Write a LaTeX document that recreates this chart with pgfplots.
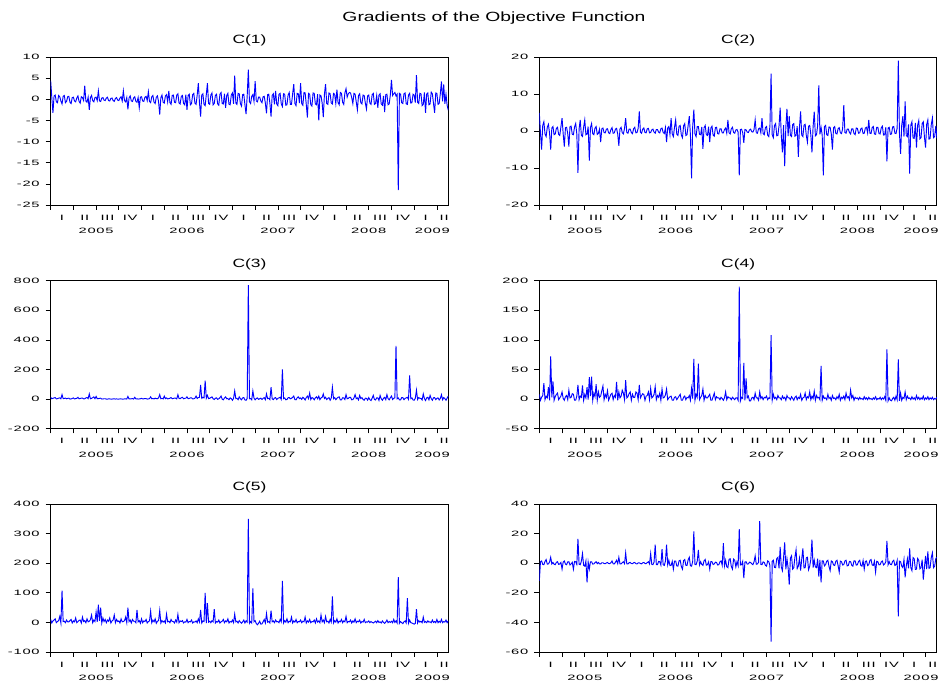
\documentclass[border=0pt]{standalone}
\usepackage{pgfplots}
\pgfplotsset{compat=1.18}
\usepackage{pgfplotstable}
\usepackage{fontspec}
\setmainfont{Liberation Sans}
\newfontfamily\tickfont[FakeStretch=1.9,LetterSpace=10]{Liberation Sans}
\newfontfamily\headfont[FakeStretch=1.45]{Liberation Sans}

% C(1)
\pgfplotstableread[row sep=\\,header=false]{
4.4\\0.5\\-3.2\\0.8\\1.0\\-0.6\\-0.8\\0.9\\0.6\\-0.4\\-1.1\\0.7\\0.9\\-0.8\\-0.5\\0.6\\0.7\\-0.7\\-1.0\\0.4\\
0.5\\-0.4\\-0.6\\0.3\\0.8\\-0.5\\-0.9\\0.6\\0.4\\-0.3\\3.2\\-0.4\\-0.7\\0.5\\-2.5\\0.4\\0.9\\-0.3\\-0.6\\0.4\\
0.5\\-0.3\\2.0\\-0.4\\-0.5\\0.3\\0.4\\-0.2\\-0.3\\0.3\\0.5\\-0.3\\-0.4\\0.2\\0.3\\-0.3\\-0.5\\0.2\\0.4\\-0.2\\
-0.3\\0.3\\0.6\\-0.4\\2.0\\-0.3\\-0.6\\0.4\\-2.4\\0.3\\0.8\\-0.4\\-0.5\\0.3\\0.6\\-0.5\\-0.7\\0.4\\-2.0\\0.5\\
0.6\\-0.4\\-0.5\\0.5\\0.7\\-0.3\\1.8\\-0.5\\-0.8\\0.6\\0.9\\-0.7\\-1.0\\0.5\\0.8\\-0.6\\-3.6\\0.4\\1.0\\-0.7\\
-0.9\\0.8\\1.1\\-0.6\\2.0\\-0.8\\-1.2\\0.9\\1.0\\-0.7\\-0.8\\1.0\\1.3\\-0.9\\-1.1\\0.7\\0.9\\-1.0\\-1.3\\1.1\\
-2.5\\0.9\\1.2\\-1.3\\-1.0\\1.1\\1.4\\-0.9\\-1.2\\1.0\\3.8\\-0.8\\-4.1\\1.0\\1.3\\-1.2\\-1.5\\1.1\\3.8\\-1.0\\
-1.2\\1.0\\1.5\\-1.3\\-1.0\\0.9\\1.2\\-1.1\\-1.4\\1.2\\1.6\\-1.0\\-1.1\\1.3\\-2.0\\0.9\\1.4\\-1.2\\-1.3\\1.0\\
1.5\\-1.1\\5.6\\-0.9\\-1.2\\1.4\\1.3\\-1.0\\-1.6\\1.1\\1.2\\-1.3\\-3.5\\0.8\\7.0\\-0.6\\-1.0\\0.7\\1.1\\-0.5\\
4.3\\-0.4\\-0.6\\0.5\\0.5\\-0.4\\-0.8\\0.6\\0.7\\-0.9\\-3.3\\1.1\\1.2\\-1.0\\-4.1\\0.9\\1.3\\-1.2\\2.0\\-1.1\\
-1.5\\1.2\\1.4\\-1.1\\-1.7\\1.3\\1.2\\-1.4\\-1.3\\1.0\\1.6\\-1.2\\-1.2\\1.3\\3.6\\-1.0\\-1.5\\1.4\\1.3\\-0.9\\
3.8\\-1.0\\-1.4\\1.6\\1.5\\-1.2\\-4.3\\1.4\\1.2\\-1.3\\-1.6\\1.5\\1.4\\-1.1\\-1.3\\1.2\\-5.0\\1.0\\0.8\\-0.9\\
-4.2\\1.2\\3.6\\-1.0\\-1.2\\1.5\\1.3\\-0.9\\-1.1\\1.4\\1.2\\-1.0\\2.3\\-0.8\\-1.3\\1.6\\1.4\\-0.7\\-1.2\\1.5\\
2.5\\0.5\\1.3\\1.6\\1.5\\0.4\\-1.0\\1.4\\1.2\\-0.6\\-2.5\\0.9\\1.3\\-0.8\\-1.1\\1.0\\0.9\\-0.9\\-2.3\\0.8\\
1.0\\-0.9\\-1.2\\1.1\\1.4\\-1.2\\-1.0\\0.9\\-2.0\\1.0\\1.3\\-1.1\\-1.4\\0.8\\-3.0\\1.1\\1.2\\-1.3\\-1.1\\1.0\\
4.6\\0.9\\1.3\\1.6\\0.8\\1.2\\-21.5\\1.4\\1.2\\-0.8\\-1.0\\1.3\\1.5\\-1.1\\-1.2\\1.0\\1.4\\-0.9\\-0.8\\1.2\\
1.0\\-0.8\\5.7\\-0.7\\-1.0\\1.4\\1.3\\-1.5\\-1.2\\1.6\\-3.2\\1.2\\1.5\\-1.3\\-1.1\\1.7\\1.3\\-1.0\\-3.2\\1.5\\
1.4\\-1.2\\-1.0\\1.3\\4.2\\-0.5\\3.5\\-1.1\\1.2\\-1.4\\-2.6\\
}\dA
% C(2)
\pgfplotstableread[row sep=\\,header=false]{
4.9\\-0.5\\-5.0\\1.5\\2.5\\-0.8\\-1.5\\1.0\\1.8\\-0.6\\-5.0\\0.8\\1.2\\-1.0\\-0.8\\0.7\\1.0\\-0.9\\-1.2\\1.1\\
3.5\\-0.8\\-4.2\\0.9\\1.0\\-0.7\\-4.2\\1.2\\1.3\\-0.9\\-1.0\\1.1\\2.0\\-0.8\\-11.3\\0.6\\3.0\\-1.2\\-1.5\\1.0\\
3.0\\-1.0\\-0.8\\1.2\\-8.0\\0.9\\2.0\\-0.7\\-1.0\\0.8\\1.2\\-0.9\\-0.6\\0.5\\-3.0\\0.6\\0.8\\-0.4\\-0.5\\0.5\\
0.6\\-0.5\\-0.7\\0.4\\0.9\\-0.6\\-0.5\\0.5\\0.7\\-0.8\\-4.0\\0.6\\1.0\\-0.5\\-0.8\\0.7\\3.5\\-0.4\\-0.6\\0.5\\
0.5\\-0.4\\-0.7\\0.6\\1.0\\-0.5\\-0.4\\0.7\\5.3\\-0.3\\-0.6\\0.5\\0.8\\-0.4\\-0.5\\0.6\\0.7\\-0.5\\-0.4\\0.3\\
0.5\\-0.3\\-0.6\\0.4\\0.4\\-0.3\\-0.5\\0.6\\0.8\\-0.4\\-0.7\\0.9\\-3.0\\0.8\\1.2\\-1.0\\3.5\\-0.8\\-1.5\\1.0\\
3.0\\-0.9\\-1.2\\1.3\\1.5\\-1.1\\-1.8\\1.4\\2.0\\-1.2\\-1.0\\1.5\\4.0\\-1.0\\-12.8\\1.2\\5.8\\-0.8\\-1.5\\1.2\\
1.2\\-0.9\\-1.0\\1.1\\-4.8\\0.9\\1.5\\-1.0\\-1.2\\1.2\\-3.0\\0.8\\1.3\\-1.1\\-1.4\\0.9\\1.0\\-0.7\\-0.8\\0.6\\
0.6\\-0.5\\-0.5\\0.4\\0.8\\-0.6\\3.0\\-0.5\\-0.8\\0.6\\1.0\\-0.4\\-0.6\\0.3\\0.4\\-0.3\\-12.0\\0.4\\0.5\\-0.4\\
-3.2\\0.4\\0.3\\-0.3\\-0.4\\0.3\\0.5\\-0.2\\-0.3\\0.4\\3.0\\-0.5\\-0.6\\0.6\\0.8\\-0.5\\3.5\\-0.7\\-1.0\\0.9\\
1.2\\-1.1\\-1.5\\1.3\\15.5\\-1.0\\-1.8\\1.5\\2.0\\-1.3\\-1.2\\1.4\\6.3\\-1.2\\-5.8\\1.6\\-9.5\\1.1\\6.0\\-1.4\\
4.0\\-1.2\\-1.5\\1.7\\2.0\\-1.4\\-1.2\\1.3\\-7.0\\1.0\\5.3\\-1.1\\-1.5\\1.6\\1.8\\-1.2\\-3.0\\1.3\\1.5\\-1.0\\
-5.8\\1.2\\5.2\\-1.3\\-1.0\\1.4\\12.3\\-0.9\\1.0\\-1.1\\-12.0\\1.2\\1.5\\-1.0\\-1.2\\1.1\\1.0\\-0.8\\-5.0\\0.9\\
1.2\\-0.7\\-0.8\\0.6\\0.9\\-0.5\\-0.7\\0.6\\7.0\\-0.4\\-0.6\\0.5\\0.5\\-0.4\\-0.8\\0.6\\0.6\\-0.7\\-1.0\\0.8\\
0.7\\-0.6\\-0.5\\0.6\\0.8\\-0.7\\-0.6\\0.8\\1.0\\-0.5\\3.0\\-0.6\\-0.7\\0.9\\1.2\\-0.8\\-0.9\\1.0\\1.0\\-0.7\\
-0.8\\0.9\\1.3\\-1.1\\-1.0\\1.0\\-8.2\\0.8\\1.0\\-0.9\\-0.8\\1.1\\1.2\\-0.6\\-0.7\\0.8\\19.0\\-0.5\\-6.2\\1.5\\
4.0\\-1.5\\8.0\\-1.2\\-1.5\\1.8\\-11.5\\1.6\\2.5\\-1.9\\-2.0\\2.2\\-4.5\\1.5\\2.8\\-2.1\\-1.8\\2.0\\2.5\\-1.6\\
-4.5\\1.8\\3.0\\-2.2\\-2.0\\1.7\\3.5\\-1.8\\-1.5\\1.4\\-2.0\\
}\dB
% C(3)
\pgfplotstableread[row sep=\\,header=false]{
12\\2\\5\\8\\10\\1\\3\\6\\8\\2\\30\\3\\4\\7\\2\\5\\6\\0\\1\\4\\
8\\1\\3\\5\\12\\2\\4\\6\\7\\1\\2\\8\\10\\3\\35\\2\\5\\9\\15\\3\\
18\\2\\3\\5\\6\\0\\1\\2\\2\\0\\0\\1\\1\\0\\0\\1\\2\\0\\1\\0\\
0\\1\\1\\0\\0\\1\\2\\0\\18\\1\\1\\2\\3\\0\\12\\1\\2\\0\\1\\2\\
5\\1\\2\\4\\3\\0\\1\\3\\15\\2\\4\\1\\6\\3\\2\\8\\30\\2\\5\\1\\
20\\3\\8\\1\\3\\6\\10\\2\\4\\7\\6\\1\\30\\4\\3\\9\\12\\2\\5\\6\\
15\\3\\4\\8\\8\\1\\2\\6\\20\\4\\10\\12\\95\\5\\12\\8\\125\\6\\25\\3\\
5\\10\\15\\2\\-3\\6\\8\\-2\\2\\9\\20\\-1\\-5\\7\\15\\2\\3\\-4\\8\\3\\
-8\\5\\55\\3\\5\\-4\\15\\2\\-5\\8\\10\\-6\\-8\\4\\770\\2\\3\\-5\\55\\6\\
-5\\4\\8\\-2\\2\\6\\-3\\5\\10\\-4\\35\\3\\5\\-3\\80\\2\\-4\\7\\10\\-3\\
5\\8\\12\\-2\\200\\3\\8\\-5\\-3\\9\\10\\2\\5\\12\\20\\-4\\-5\\8\\15\\3\\
8\\-2\\12\\5\\-6\\10\\20\\3\\40\\-3\\10\\6\\-5\\8\\15\\2\\20\\-4\\8\\12\\
35\\4\\12\\-3\\5\\10\\-8\\6\\80\\2\\10\\-4\\5\\12\\15\\-6\\-5\\9\\8\\-3\\
30\\2\\5\\12\\12\\-5\\-4\\8\\30\\3\\8\\-6\\25\\4\\10\\-3\\-8\\6\\5\\-7\\
10\\-4\\-10\\6\\25\\-3\\-6\\8\\8\\-9\\25\\2\\-8\\5\\12\\-4\\30\\3\\-5\\9\\
20\\-3\\5\\8\\360\\2\\8\\-5\\-6\\10\\10\\-4\\5\\8\\12\\-2\\160\\3\\8\\-6\\
-8\\6\\60\\-3\\10\\5\\5\\-6\\35\\4\\-10\\8\\12\\-5\\25\\3\\-8\\9\\10\\-4\\
5\\8\\-6\\4\\30\\-5\\10\\3\\-8\\6\\20\\
}\dC
% C(4)
\pgfplotstableread[row sep=\\,header=false]{
8\\-2\\3\\6\\27\\-1\\5\\2\\20\\-2\\72\\3\\30\\-2\\4\\8\\10\\-1\\2\\5\\
12\\1\\-2\\4\\6\\-1\\15\\2\\3\\9\\8\\-2\\-2\\5\\24\\-1\\5\\3\\23\\-2\\
8\\2\\20\\-1\\37\\5\\38\\-2\\10\\4\\25\\-2\\12\\3\\5\\14\\22\\-1\\8\\3\\
14\\-2\\3\\8\\10\\-1\\6\\3\\29\\-2\\12\\2\\5\\15\\10\\-1\\32\\2\\4\\9\\
12\\-2\\8\\3\\3\\12\\10\\-1\\24\\2\\6\\9\\8\\-2\\5\\6\\12\\-1\\18\\2\\
4\\8\\21\\-1\\6\\3\\10\\-2\\17\\2\\3\\7\\17\\-1\\2\\4\\5\\-2\\-2\\3\\
4\\-1\\2\\5\\8\\-2\\-2\\3\\5\\-1\\3\\2\\6\\-2\\18\\1\\68\\-2\\8\\3\\
60\\-1\\3\\6\\17\\-2\\6\\2\\2\\5\\8\\-2\\-2\\4\\10\\-1\\4\\2\\2\\-1\\
3\\1\\-2\\2\\12\\-1\\4\\2\\2\\-1\\3\\1\\-1\\2\\2\\-2\\190\\-3\\3\\1\\
61\\-2\\35\\2\\5\\-3\\-3\\2\\3\\-1\\10\\2\\2\\-2\\12\\1\\4\\-1\\3\\2\\
5\\-1\\2\\1\\108\\-2\\8\\1\\3\\-1\\6\\2\\2\\-1\\5\\1\\3\\-2\\6\\2\\
2\\-1\\4\\1\\-2\\3\\5\\-1\\3\\1\\8\\-2\\2\\3\\10\\-1\\4\\2\\12\\-1\\
5\\1\\13\\-2\\6\\2\\3\\-1\\56\\-2\\5\\1\\2\\-1\\8\\1\\3\\-2\\6\\1\\
2\\-1\\4\\1\\8\\-2\\3\\1\\5\\-1\\10\\2\\4\\-1\\15\\2\\6\\-2\\3\\1\\
2\\-1\\3\\0\\1\\-1\\4\\0\\2\\-1\\3\\0\\1\\-1\\2\\0\\4\\-1\\1\\0\\
3\\-1\\2\\0\\4\\-2\\84\\-3\\2\\-2\\-3\\1\\3\\-2\\5\\-1\\67\\-3\\10\\-2\\
3\\1\\12\\-1\\5\\1\\2\\-1\\4\\0\\2\\-1\\6\\0\\3\\-1\\2\\0\\5\\-1\\
2\\0\\4\\-1\\2\\0\\3\\-1\\1\\0\\3\\
}\dD
% C(5)
\pgfplotstableread[row sep=\\,header=false]{
10\\-2\\5\\8\\12\\-1\\3\\6\\20\\-2\\107\\3\\4\\-1\\8\\2\\2\\6\\10\\-2\\
5\\2\\15\\-1\\3\\7\\8\\-2\\18\\3\\6\\-1\\12\\2\\4\\9\\25\\-1\\8\\3\\
35\\2\\60\\5\\50\\-2\\15\\3\\10\\-1\\8\\4\\15\\-2\\5\\8\\25\\-1\\10\\3\\
5\\-2\\12\\2\\3\\6\\18\\-1\\50\\3\\8\\-2\\10\\4\\4\\-1\\42\\2\\6\\-3\\
12\\-1\\5\\3\\10\\-2\\3\\5\\38\\-1\\8\\2\\12\\-3\\4\\6\\40\\-2\\6\\1\\
5\\-2\\28\\2\\4\\-1\\10\\3\\3\\-2\\8\\1\\27\\-1\\5\\3\\6\\-2\\2\\1\\
10\\-1\\3\\2\\8\\-2\\2\\1\\5\\-1\\12\\2\\42\\-2\\5\\3\\100\\-2\\65\\1\\
4\\-1\\6\\2\\45\\-2\\3\\1\\8\\-2\\2\\4\\10\\-1\\5\\2\\12\\-2\\3\\1\\
8\\-1\\28\\2\\4\\-2\\6\\1\\-3\\2\\8\\-2\\5\\1\\350\\-3\\3\\-2\\115\\2\\
6\\-4\\-8\\-3\\4\\-6\\-5\\2\\10\\-2\\30\\1\\3\\-2\\40\\2\\5\\-1\\8\\2\\
3\\-1\\10\\2\\140\\-2\\6\\1\\12\\-1\\4\\2\\18\\-2\\5\\1\\10\\-1\\3\\2\\
8\\-1\\4\\2\\18\\-2\\5\\1\\10\\-1\\3\\2\\8\\-2\\12\\1\\5\\-1\\25\\2\\
8\\-1\\20\\2\\4\\-2\\10\\1\\88\\-2\\6\\1\\12\\-2\\4\\2\\10\\-1\\5\\2\\
20\\-1\\3\\2\\8\\-2\\5\\1\\12\\-1\\4\\2\\8\\-2\\3\\1\\10\\-1\\2\\1\\
5\\-1\\3\\0\\-2\\1\\4\\-1\\6\\0\\2\\-2\\5\\0\\-3\\1\\8\\-1\\3\\0\\
4\\-1\\10\\0\\5\\-2\\153\\-3\\3\\-1\\-4\\2\\5\\-2\\82\\-3\\8\\-1\\-2\\-4\\
-6\\-3\\45\\-2\\6\\1\\4\\-1\\18\\0\\3\\-1\\5\\1\\2\\-1\\8\\0\\3\\-1\\
10\\-1\\4\\0\\10\\-1\\3\\1\\8\\-1\\5\\
}\dE
% C(6)
\pgfplotstableread[row sep=\\,header=false]{
-12\\1\\1.5\\-0.8\\-1\\1.2\\2.5\\-0.6\\-0.5\\0.8\\4\\-0.5\\0.5\\-0.7\\-1\\0.6\\1\\-0.8\\-0.5\\0.5\\
-4\\0.8\\1.5\\-0.6\\-1\\0.9\\1\\-1.2\\-0.5\\0.6\\-4\\1.2\\1\\-0.8\\16.5\\-0.7\\-1\\1.4\\6.5\\-1.5\\
-2\\1.5\\-13\\0.8\\-4\\1\\1\\-0.6\\-0.5\\0.4\\1\\-0.3\\0.5\\-0.4\\-0.5\\0.3\\0.3\\-0.2\\-0.3\\0.2\\
0.5\\-0.2\\-0.3\\0.3\\1.5\\-0.4\\-0.5\\0.6\\2\\-0.3\\4\\-0.5\\-0.5\\0.4\\1\\-0.3\\7\\-0.4\\-0.5\\0.3\\
0.5\\-0.2\\-0.3\\0.3\\0.5\\-0.3\\-0.5\\0.2\\0.3\\-0.2\\-0.4\\0.3\\0.5\\-0.2\\-0.3\\0.4\\1\\-0.5\\6.5\\-0.8\\
-1\\0.8\\12.5\\-0.9\\-1\\1.2\\1\\-1.3\\9.5\\-1\\-1.5\\1.4\\12.5\\-1.1\\2\\-1.6\\-1.5\\1.2\\-4\\1.5\\
1.5\\-1.8\\-2\\1.6\\2\\-2.2\\-4\\1.8\\2.5\\-1.4\\-1.5\\2.3\\4\\-1.7\\-2\\1.2\\21.5\\-0.8\\-1\\1.4\\
9\\-1.2\\1\\-0.8\\-1.5\\1.6\\2.5\\-1.3\\-1\\0.9\\-4\\1.1\\1\\-0.9\\-0.5\\0.7\\0.5\\-1.2\\-1\\1\\
1.5\\-1.4\\13.5\\-1.8\\2\\-2.4\\-3\\2.6\\3\\-2.2\\-4\\2.8\\2\\-2.5\\1\\-1.6\\23\\-1.2\\-1\\1.2\\
-10\\0.8\\1\\-0.6\\-0.5\\0.7\\0.5\\-0.4\\-1\\0.9\\5\\-0.7\\-0.5\\0.6\\28.5\\-0.8\\-1\\0.9\\0.5\\-1.4\\
-2\\1.6\\1\\-1.5\\-53\\1.2\\2\\-2.8\\-3\\3.2\\4\\-3.5\\11\\-2.6\\-5\\3.8\\14\\-4.2\\3\\-3\\
-14.5\\3.5\\5\\-4\\-3\\4.2\\9\\-3.6\\-2\\3.3\\-5\\2.8\\10\\-3.2\\-3\\3.6\\4\\-4.4\\-2\\2.6\\
16\\-3\\2\\-2.5\\-3\\3\\-9\\2.2\\-13\\1.6\\1.5\\-1.8\\-1\\1.4\\2\\-2.2\\-5\\1.5\\1\\-1.2\\
-1.5\\1.3\\2\\-1.6\\-6\\1.4\\1\\-1.2\\-1\\1.5\\2\\-1.8\\-1.5\\1.2\\1\\-1.4\\-2\\1.6\\1.5\\-1.3\\
-1\\1.2\\2\\-1.5\\-2\\1.8\\-4\\1.2\\1.5\\-1.6\\-1\\1.9\\2.5\\-1.2\\-1.5\\1.4\\-6\\1.3\\1\\-1.1\\
-1\\0.9\\1.5\\-1.2\\-0.5\\1\\15\\-1\\1\\-0.8\\-1\\1.3\\2\\-1.5\\-1\\1.8\\-36\\1.4\\1\\-2\\
-3\\2.5\\-9.5\\-2\\3\\-3.5\\10\\-3\\-5\\3.8\\3\\-4.2\\-4\\3.2\\2\\-3.8\\-3\\2.4\\-11\\-2.8\\
5\\-4\\8\\-3.5\\-3\\3.8\\7\\-3\\-2\\3.2\\4\\
}\dF

\definecolor{evblue}{RGB}{0,0,255}
\pgfplotsset{
  evline/.style={color=evblue, line width=0.7pt, no marks},
  ev/.style={
    scale only axis, width=298.2pt, height=111pt, anchor=north west,
    xmin=2005, xmax=2009.375,
    tick pos=left, tick align=outside,
    major tick length=3.75pt, minor tick length=3.5pt,
    tick style={black, line width=0.5pt},
    xtick={2005.125,2005.375,2005.625,2005.875,2006.125,2006.375,2006.625,2006.875,2007.125,2007.375,2007.625,2007.875,2008.125,2008.375,2008.625,2008.875,2009.125,2009.33},
    xticklabels={I,II,III,IV,I,II,III,IV,I,II,III,IV,I,II,III,IV,I,II},
    major x tick style={draw=none},
    minor xtick={2005,2005.25,...,2009.25},
    extra x ticks={2005.5,2006.5,2007.5,2008.5,2009.2},
    extra x tick labels={2005,2006,2007,2008,2009},
    extra x tick style={xticklabel style={yshift=-10.1pt}},
    tick label style={font=\tickfont\fontsize{5.8}{7}\selectfont},
    xticklabel style={yshift=0pt},
    yticklabel style={xshift=-1pt},
    axis line style={line width=0.7pt},
    title style={font=\headfont\fontsize{9}{10}\selectfont, at={(0.5,1)}, anchor=center, yshift=6.4pt},
  }
}

\begin{document}
\begin{tikzpicture}
\useasboundingbox (0,0) rectangle (705pt,-512.25pt);
\node[font=\headfont\fontsize{10}{11}\selectfont] at (370.5pt,-13.5pt) {Gradients of the Objective Function};

\begin{axis}[ev, at={(38pt,-42.75pt)}, title={C(1)},
  ymin=-25, ymax=10, ytick={-25,-20,-15,-10,-5,0,5,10},
  yticklabels={-25,-20,-15,-10,-5,0,5,10}]
\addplot[evline] table[x expr=2005+\coordindex*0.0125, y index=0] {\dA};
\end{axis}

\begin{axis}[ev, at={(404.5pt,-42.75pt)}, title={C(2)},
  ymin=-20, ymax=20, ytick={-20,-10,0,10,20},
  yticklabels={-20,-10,0,10,20}]
\addplot[evline] table[x expr=2005+\coordindex*0.0125, y index=0] {\dB};
\end{axis}

\begin{axis}[ev, at={(38pt,-210.5pt)}, title={C(3)},
  ymin=-200, ymax=800, ytick={-200,0,200,400,600,800},
  yticklabels={-200,0,200,400,600,800}]
\addplot[evline] table[x expr=2005+\coordindex*0.0125, y index=0] {\dC};
\end{axis}

\begin{axis}[ev, at={(404.5pt,-210.5pt)}, title={C(4)},
  ymin=-50, ymax=200, ytick={-50,0,50,100,150,200},
  yticklabels={-50,0,50,100,150,200}]
\addplot[evline] table[x expr=2005+\coordindex*0.0125, y index=0] {\dD};
\end{axis}

\begin{axis}[ev, at={(38pt,-378pt)}, title={C(5)},
  ymin=-100, ymax=400, ytick={-100,0,100,200,300,400},
  yticklabels={-100,0,100,200,300,400}]
\addplot[evline] table[x expr=2005+\coordindex*0.0125, y index=0] {\dE};
\end{axis}

\begin{axis}[ev, at={(404.5pt,-378pt)}, title={C(6)},
  ymin=-60, ymax=40, ytick={-60,-40,-20,0,20,40},
  yticklabels={-60,-40,-20,0,20,40}]
\addplot[evline] table[x expr=2005+\coordindex*0.0125, y index=0] {\dF};
\end{axis}
\end{tikzpicture}
\end{document}
